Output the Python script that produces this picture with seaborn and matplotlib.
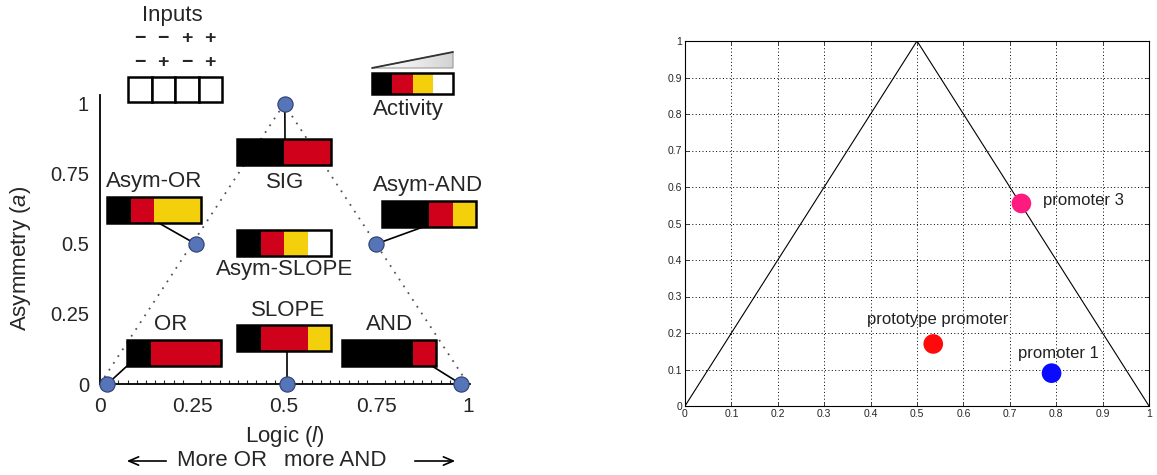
import numpy as np
import pandas as pd
import matplotlib
matplotlib.use("Agg")
import matplotlib.pyplot as plt
import seaborn as sns
from matplotlib.patches import Rectangle, Polygon

# ---- left panel data: idealised promoter classes in the logic / asymmetry plane
case_names = ["OR", "SLOPE", "AND", "Asym-OR", "Asym-AND", "SIG"]
case_logic = [0.02, 0.508, 0.98, 0.26, 0.75, 0.502]
case_asym = [0.0, 0.0, 0.0, 0.5, 0.5, 1.0]

# activity level for the 4 input combinations (0 = black ... 3 = white)
activity = {
    "SIG": [0, 0, 1, 1],
    "Asym-OR": [0, 1, 2, 2],
    "Asym-AND": [0, 0, 1, 2],
    "Asym-SLOPE": [0, 1, 2, 3],
    "OR": [0, 1, 1, 1],
    "SLOPE": [0, 1, 1, 2],
    "AND": [0, 0, 0, 1],
}
activity_scale = [0, 1, 2, 3]
level_colors = ["#000000", "#d0021b", "#f4cf0b", "#ffffff"]
input_a = ["\u2212", "\u2212", "+", "+"]
input_b = ["\u2212", "+", "\u2212", "+"]

# boundary of the plane
tri_logic = [0.0, 0.5, 1.0]
tri_asym = [0.0, 1.0, 0.0]

# ---- right panel data: measured promoters
promoters = ["prototype promoter", "promoter 1", "promoter 3"]
prom_logic = [0.535, 0.79, 0.725]
prom_asym = [0.17, 0.09, 0.555]
prom_colors = ["#ff0a0a", "#0a0aff", "#ff1a80"]

# ---- layout (figure pixels, y down): bar top-left, label centre, connector anchor
bar_pos = {
    "SIG": (237, 139), "Asym-OR": (107, 197), "Asym-AND": (382, 201),
    "Asym-SLOPE": (237, 230), "OR": (127, 340), "SLOPE": (237, 325), "AND": (342, 340),
}
label_pos = {
    "SIG": (285, 182), "Asym-OR": (154, 181), "Asym-AND": (428, 185),
    "Asym-SLOPE": (285, 270), "OR": (171, 325), "SLOPE": (288, 311), "AND": (390, 325),
}
anchor_pos = {
    "SIG": (285, 139), "Asym-OR": (157, 222), "Asym-AND": (423, 227),
    "OR": (127, 366), "SLOPE": (287, 351), "AND": (432, 366),
}
BAR_W, BAR_H = 94, 26
LBL = 16

sns.set_style("white")
plt.rcParams["font.family"] = ["Liberation Sans", "DejaVu Sans"]
plt.rcParams["mathtext.fontset"] = "custom"
plt.rcParams["mathtext.it"] = "Liberation Sans:italic"
plt.rcParams["mathtext.rm"] = "Liberation Sans"

fig = plt.figure(figsize=(11.57, 4.75), dpi=100)
W, H = 1157, 475

# left axes
ax = fig.add_axes([100 / W, (H - 384) / H, 370 / W, 289 / H])
ax.set_xlim(0, 1.005)
ax.set_ylim(0, 1.032)
sns.lineplot(x=tri_logic, y=tri_asym, ax=ax, color="#555555", lw=1.3,
             linestyle=(0, (1, 3.5)), sort=False, zorder=1)
df_cases = pd.DataFrame({"logic": case_logic, "asym": case_asym, "case": case_names})
sns.scatterplot(data=df_cases, x="logic", y="asym", ax=ax, s=120, color="#5674b8",
                edgecolor="#2d3f6e", linewidth=0.8, zorder=5, clip_on=False, legend=False)
for sp in ["top", "right"]:
    ax.spines[sp].set_visible(False)
for sp in ["left", "bottom"]:
    ax.spines[sp].set_linewidth(1.3)
    ax.spines[sp].set_color("black")
ax.set_xticks([0, 0.25, 0.5, 0.75, 1])
ax.set_xticklabels(["0", "0.25", "0.5", "0.75", "1"])
ax.set_xticks(np.arange(0, 1.001, 0.025), minor=True)
ax.set_yticks([0, 0.25, 0.5, 0.75, 1])
ax.set_yticklabels(["0", "0.25", "0.5", "0.75", "1"])
ax.tick_params(axis="x", which="major", direction="in", length=5, width=1, labelsize=15, pad=9)
ax.tick_params(axis="x", which="minor", direction="in", length=3, width=0.8, bottom=True)
ax.tick_params(axis="y", length=0, labelsize=14.5, pad=8)
ax.set_xlabel("Logic ($l$)", fontsize=LBL, labelpad=6)
ax.set_ylabel("Asymmetry ($a$)", fontsize=LBL)
ax.yaxis.set_label_coords(-0.18, 0.436)

# overlay in pixel coordinates for bars and annotations
ov = fig.add_axes([0, 0, 1, 1], zorder=3)
ov.set_xlim(0, W)
ov.set_ylim(H, 0)
ov.axis("off")
ov.patch.set_alpha(0)


def draw_bar(x0, y0, levels, w=BAR_W, h=BAR_H):
    cw = w / len(levels)
    for i, lv in enumerate(levels):
        ov.add_patch(Rectangle((x0 + i * cw, y0), cw, h, facecolor=level_colors[lv],
                               edgecolor="none"))
    ov.add_patch(Rectangle((x0, y0), w, h, facecolor="none", edgecolor="black", lw=1.8))


for name, lv in activity.items():
    draw_bar(*bar_pos[name], lv)
    ov.text(*label_pos[name], name, ha="center", va="center", fontsize=LBL)

for name, lx, ly in zip(case_names, case_logic, case_asym):
    ax.annotate("", xy=(lx, ly), xytext=anchor_pos[name], textcoords=ov.transData,
                arrowprops=dict(arrowstyle="-", color="black", lw=1.2, shrinkA=0, shrinkB=0),
                annotation_clip=False, zorder=3)

# inputs key
ov.text(172, 15, "Inputs", ha="center", va="center", fontsize=LBL)
for i in range(4):
    cx = 128 + i * 23.5
    ov.add_patch(Rectangle((cx, 77), 23.5, 25, facecolor="white", edgecolor="black", lw=1.8))
    ov.text(cx + 11.75, 39, input_a[i], ha="center", va="center", fontsize=14, fontweight="bold")
    ov.text(cx + 11.75, 63, input_b[i], ha="center", va="center", fontsize=14, fontweight="bold")

# activity key
draw_bar(372, 73, activity_scale, w=81, h=21)
wedge = Polygon([(372, 68), (453, 68), (453, 52)], closed=True, facecolor="none",
                edgecolor="#9a9a9a", lw=0.8)
ov.add_patch(wedge)
grad = np.linspace(0, 1, 100).reshape(1, -1)
im = ov.imshow(grad, extent=[372, 453, 68, 52], cmap="Greys", vmin=0, vmax=3.5,
               aspect="auto", interpolation="bilinear")
im.set_clip_path(wedge)
ov.plot([372, 453], [68, 52], color="#333333", lw=1.3)
ov.set_xlim(0, W)
ov.set_ylim(H, 0)
ov.text(408, 110, "Activity", ha="center", va="center", fontsize=LBL)

# direction arrows
ov.text(222, 461, "More OR", ha="center", va="center", fontsize=LBL)
ov.text(335, 461, "more AND", ha="center", va="center", fontsize=LBL)
ov.annotate("", xy=(124, 461), xytext=(169, 461),
            arrowprops=dict(arrowstyle="->,head_length=0.7,head_width=0.3", color="black", lw=1.2))
ov.annotate("", xy=(458, 461), xytext=(412, 461),
            arrowprops=dict(arrowstyle="->,head_length=0.7,head_width=0.3", color="black", lw=1.2))

# right axes
ax2 = fig.add_axes([685 / W, (H - 406) / H, 464 / W, 365 / H])
sns.lineplot(x=tri_logic, y=tri_asym, ax=ax2, color="black", lw=0.8, sort=False)
df_prom = pd.DataFrame({"logic": prom_logic, "asym": prom_asym, "promoter": promoters})
sns.scatterplot(data=df_prom, x="logic", y="asym", hue="promoter", palette=prom_colors,
                ax=ax2, s=200, marker="o", linewidth=0, legend=False, zorder=5)
ax2.set_xlim(0, 1)
ax2.set_ylim(0, 1)
ticks = np.round(np.arange(0, 1.01, 0.1), 1)
ax2.set_xticks(ticks)
ax2.set_yticks(ticks)
tick_lbls = ["0"] + [f"{t:g}" for t in ticks[1:-1]] + ["1"]
ax2.set_xticklabels(tick_lbls)
ax2.set_yticklabels(tick_lbls)
ax2.tick_params(direction="in", length=3, width=0.6, labelsize=7.5, pad=2,
                top=True, right=True, bottom=True, left=True)
ax2.grid(True, color="black", linestyle=(0, (1, 2.5)), lw=0.7)
for sp in ax2.spines.values():
    sp.set_linewidth(0.8)
    sp.set_color("black")
ax2.set_xlabel("")
ax2.set_ylabel("")
ax2.text(0.772, 0.564, "promoter 3", fontsize=12, color="#222222", va="center")
ax2.text(0.392, 0.236, "prototype promoter", fontsize=12, color="#222222", va="center")
ax2.text(0.718, 0.145, "promoter 1", fontsize=12, color="#222222", va="center")

fig.savefig("out.png", dpi=100)
